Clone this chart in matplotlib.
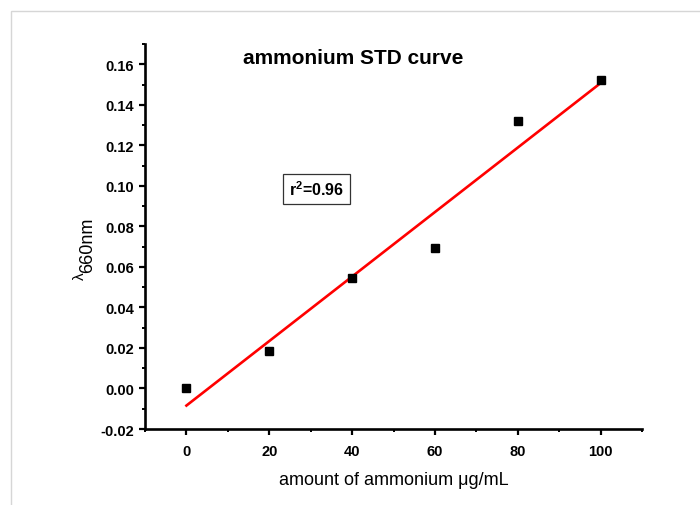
import numpy as np
import matplotlib
matplotlib.use('Agg')
import matplotlib.pyplot as plt
from matplotlib.patches import Rectangle
from matplotlib.ticker import MultipleLocator

plt.rcParams['font.family'] = ['Liberation Sans', 'DejaVu Sans']
plt.rcParams['mathtext.fontset'] = 'custom'
plt.rcParams['mathtext.rm'] = 'Liberation Sans'
plt.rcParams['mathtext.bf'] = 'Liberation Sans:bold'

# data
amount = [0, 20, 40, 60, 80, 100]
absorb = [0.0003, 0.0185, 0.0545, 0.0695, 0.132, 0.152]
x_ticks = [0, 20, 40, 60, 80, 100]
y_ticks = [-0.02, 0.00, 0.02, 0.04, 0.06, 0.08, 0.10, 0.12, 0.14, 0.16]

fig = plt.figure(figsize=(7.0, 5.06), dpi=100)
# light grey frame around the picture
fig.patches.append(Rectangle((11 / 700, -0.1), 1.2, 0.1 + (506 - 12) / 506,
                             transform=fig.transFigure, fill=False,
                             edgecolor='#d6d6d6', linewidth=1.0))

ax = fig.add_axes([145 / 700, 76 / 506, 497 / 700, 385 / 506])

# linear fit
slope, intercept = np.polyfit(amount, absorb, 1)
fit_x = np.array([amount[0], amount[-1]])
ax.plot(fit_x, slope * fit_x + intercept, color='#ff0000', linewidth=1.9, zorder=2)
ax.plot(amount, absorb, 's', color='black', markersize=6.3, zorder=3)

ax.set_xlim(-10, 110)
ax.set_ylim(-0.02, 0.17)
ax.set_xticks(x_ticks)
ax.set_yticks(y_ticks)
ax.set_yticklabels(['%.2f' % v for v in y_ticks])
ax.xaxis.set_minor_locator(MultipleLocator(10))
ax.yaxis.set_minor_locator(MultipleLocator(0.01))

for s in ['top', 'right']:
    ax.spines[s].set_visible(False)
for s in ['left', 'bottom']:
    ax.spines[s].set_linewidth(1.9)

ax.tick_params(which='major', direction='out', length=4, width=1.6)
ax.tick_params(axis='x', which='major', pad=7)
ax.tick_params(axis='y', which='major', pad=4)
ax.tick_params(which='minor', direction='out', length=2.5, width=1.4)
for lab in ax.get_xticklabels() + ax.get_yticklabels():
    lab.set_fontweight('bold')
    lab.set_fontsize(10.5)

ax.set_xlabel('amount of ammonium μg/mL', fontsize=13, labelpad=9)

# y label: lambda with full-size subscript
fig.text(88 / 700, 1 - 245 / 506, '660nm', rotation=90, fontsize=13,
         ha='center', va='center')
fig.text(80 / 700, 1 - 276 / 506, 'λ', rotation=90, fontsize=11,
         ha='center', va='center')

ax.text(0.418, 0.966, 'ammonium STD curve', transform=ax.transAxes,
        fontsize=15, fontweight='bold', ha='center', va='center')

ax.text(31.4, 0.0985, r'r$^{\mathbf{2}}$=0.96', fontsize=11.5, fontweight='bold',
        ha='center', va='center',
        bbox=dict(boxstyle='square,pad=0.35', facecolor='white',
                  edgecolor='#333333', linewidth=0.9))

fig.savefig('out.png', dpi=100, facecolor='white')
